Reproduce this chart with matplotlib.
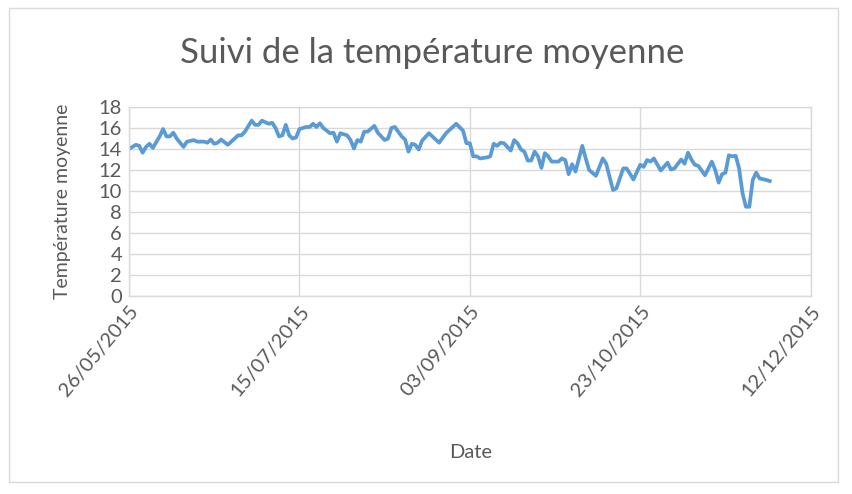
import matplotlib
matplotlib.use("Agg")
import matplotlib.pyplot as plt
import matplotlib.dates as mdates
from matplotlib.patches import Rectangle
import pandas as pd

plt.rcParams['font.family'] = ['Lato', 'DejaVu Sans']

title = "Suivi de la température moyenne"
x_label = "Date"
y_label = "Température moyenne"

dates = [
    "2015-05-26", "2015-05-28", "2015-05-29", "2015-05-30", "2015-05-31", "2015-06-01", "2015-06-02",
    "2015-06-04", "2015-06-05", "2015-06-06", "2015-06-07", "2015-06-08", "2015-06-09", "2015-06-11",
    "2015-06-12", "2015-06-14", "2015-06-15", "2015-06-17", "2015-06-18", "2015-06-19", "2015-06-20",
    "2015-06-21", "2015-06-22", "2015-06-24", "2015-06-25", "2015-06-27", "2015-06-28", "2015-06-29",
    "2015-07-01", "2015-07-02", "2015-07-03", "2015-07-04", "2015-07-06", "2015-07-07", "2015-07-08",
    "2015-07-09", "2015-07-10", "2015-07-11", "2015-07-12", "2015-07-13", "2015-07-14", "2015-07-15",
    "2015-07-17", "2015-07-18", "2015-07-19", "2015-07-20", "2015-07-21", "2015-07-22", "2015-07-24",
    "2015-07-25", "2015-07-26", "2015-07-27", "2015-07-29", "2015-07-30", "2015-07-31", "2015-08-01",
    "2015-08-02", "2015-08-03", "2015-08-04", "2015-08-06", "2015-08-07", "2015-08-09", "2015-08-10",
    "2015-08-11", "2015-08-12", "2015-08-14", "2015-08-15", "2015-08-16", "2015-08-17", "2015-08-18",
    "2015-08-19", "2015-08-20", "2015-08-22", "2015-08-25", "2015-08-27", "2015-08-30", "2015-09-01",
    "2015-09-02", "2015-09-03", "2015-09-04", "2015-09-05", "2015-09-06", "2015-09-08", "2015-09-09",
    "2015-09-10", "2015-09-11", "2015-09-12", "2015-09-13", "2015-09-15", "2015-09-16", "2015-09-17",
    "2015-09-18", "2015-09-19", "2015-09-20", "2015-09-21", "2015-09-22", "2015-09-23", "2015-09-24",
    "2015-09-25", "2015-09-26", "2015-09-27", "2015-09-29", "2015-09-30", "2015-10-01", "2015-10-02",
    "2015-10-03", "2015-10-04", "2015-10-06", "2015-10-07", "2015-10-08", "2015-10-10", "2015-10-12",
    "2015-10-13", "2015-10-15", "2015-10-16", "2015-10-18", "2015-10-19", "2015-10-21", "2015-10-23",
    "2015-10-24", "2015-10-25", "2015-10-26", "2015-10-27", "2015-10-29", "2015-10-31", "2015-11-01",
    "2015-11-02", "2015-11-04", "2015-11-05", "2015-11-06", "2015-11-07", "2015-11-08", "2015-11-09",
    "2015-11-11", "2015-11-13", "2015-11-14", "2015-11-15", "2015-11-16", "2015-11-17", "2015-11-18",
    "2015-11-19", "2015-11-20", "2015-11-21", "2015-11-22", "2015-11-23", "2015-11-24", "2015-11-25",
    "2015-11-26", "2015-11-27", "2015-11-29", "2015-11-30",
]

temperatures = [
    14.0, 14.4, 14.3, 13.65, 14.2, 14.5, 14.1,
    15.2, 15.9, 15.2, 15.2, 15.55, 15.0, 14.2,
    14.7, 14.85, 14.7, 14.7, 14.6, 14.9, 14.5,
    14.6, 14.9, 14.4, 14.7, 15.3, 15.3, 15.65,
    16.7, 16.3, 16.3, 16.7, 16.4, 16.5, 16.0,
    15.2, 15.3, 16.3, 15.3, 15.0, 15.1, 15.9,
    16.1, 16.1, 16.4, 16.1, 16.45, 16.0, 15.5,
    15.55, 14.7, 15.5, 15.3, 14.85, 14.05, 14.85,
    14.7, 15.65, 15.65, 16.2, 15.55, 14.85, 15.0,
    16.0, 16.1, 15.2, 14.9, 13.75, 14.5, 14.4,
    13.95, 14.8, 15.5, 14.6, 15.5, 16.4, 15.75,
    14.55, 14.55, 13.3, 13.3, 13.1, 13.2, 13.3,
    14.5, 14.3, 14.6, 14.55, 13.85, 14.85, 14.55,
    13.95, 13.75, 12.9, 12.9, 13.75, 13.3, 12.2,
    13.6, 13.3, 12.8, 12.8, 13.1, 12.95, 11.6,
    12.55, 11.85, 14.3, 13.1, 12.0, 11.45, 13.1,
    12.6, 10.1, 10.25, 12.15, 12.15, 11.1, 12.5,
    12.3, 12.95, 12.8, 13.1, 11.95, 12.7, 12.05,
    12.15, 13.0, 12.6, 13.65, 13.0, 12.5, 12.4,
    11.5, 12.8, 12.0, 10.8, 11.6, 11.75, 13.4,
    13.3, 13.35, 12.15, 9.8, 8.5, 8.5, 11.05,
    11.75, 11.2, 11.05, 10.95,
]

tick_dates = ["2015-05-26", "2015-07-15", "2015-09-03", "2015-10-23", "2015-12-12"]
y_ticks = [0, 2, 4, 6, 8, 10, 12, 14, 16, 18]

x = pd.to_datetime(dates)
ticks = pd.to_datetime(tick_dates)

fig = plt.figure(figsize=(8.52, 4.94), dpi=100)
ax = fig.add_axes([0.1514, 0.4008, 0.8001, 0.3826])

grid_color = "#D9D9D9"
text_color = "#595959"

ax.plot(x, temperatures, color="#5B9BD5", linewidth=2.7, solid_joinstyle="round")

ax.set_xlim(ticks[0], ticks[-1])
ax.set_ylim(0, 18)
ax.set_xticks(ticks)
ax.xaxis.set_major_formatter(mdates.DateFormatter("%d/%m/%Y"))
ax.set_yticks(y_ticks)
ax.grid(True, color=grid_color, linewidth=1.0)
ax.set_axisbelow(True)
for s in ax.spines.values():
    s.set_color(grid_color)
    s.set_linewidth(1.0)
ax.tick_params(length=0, colors=text_color, labelsize=14.5, pad=5)
for lbl in ax.get_xticklabels():
    lbl.set_rotation(50)
    lbl.set_ha("right")
    lbl.set_va("top")
    lbl.set_rotation_mode("anchor")

fig.text(0.507, 0.893, title, ha="center", va="center", fontsize=25, color=text_color)
fig.text(0.073, 0.5918, y_label, ha="center", va="center", rotation=90, fontsize=14, color=text_color)
fig.text(0.552, 0.085, x_label, ha="center", va="center", fontsize=14.5, color=text_color)

fig.patches.append(Rectangle((0.011, 0.024), 0.973, 0.96, transform=fig.transFigure,
                             fill=False, edgecolor="#D9D9D9", linewidth=1.0))

fig.savefig("out.png", dpi=100)
